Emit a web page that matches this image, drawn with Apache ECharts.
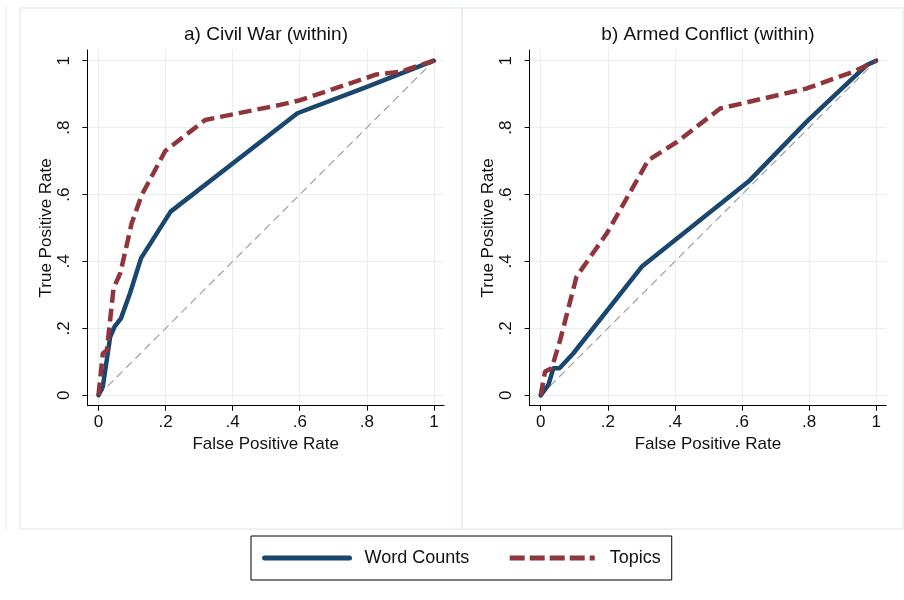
<!DOCTYPE html>
<html>
<head>
<meta charset="utf-8">
<script src="https://cdn.jsdelivr.net/npm/echarts@6/dist/echarts.min.js"></script>
<style>
html,body{margin:0;padding:0;background:#fff;}
#chart{width:904px;height:600px;}
</style>
</head>
<body>
<div id="chart"></div>
<script>
// ---- data ----
const panelTitles = ['a) Civil War (within)', 'b) Armed Conflict (within)'];
const seriesNames = ['Word Counts', 'Topics'];
const tickValues = [0, 0.2, 0.4, 0.6, 0.8, 1];
const tickLabels = ['0', '.2', '.4', '.6', '.8', '1'];
const xAxisTitle = 'False Positive Rate';
const yAxisTitle = 'True Positive Rate';

// a) Civil War — Word Counts
const cwWcFpr = [0, 0.013, 0.035, 0.048, 0.067, 0.094, 0.127, 0.215, 0.593, 0.80, 1];
const cwWcTpr = [0, 0.026, 0.175, 0.205, 0.23, 0.305, 0.41, 0.549, 0.843, 0.922, 1];
// a) Civil War — Topics
const cwTpFpr = [0, 0.013, 0.025, 0.045, 0.065, 0.099, 0.129, 0.199, 0.318, 0.541, 0.601, 0.829, 0.899, 1];
const cwTpTpr = [0, 0.125, 0.135, 0.32, 0.365, 0.514, 0.599, 0.73, 0.823, 0.868, 0.882, 0.959, 0.967, 1];
// b) Armed Conflict — Word Counts
const acWcFpr = [0, 0.023, 0.038, 0.056, 0.097, 0.301, 0.624, 0.793, 0.972, 1];
const acWcTpr = [0, 0.031, 0.081, 0.081, 0.125, 0.384, 0.643, 0.818, 0.987, 1];
// b) Armed Conflict — Topics
const acTpFpr = [0, 0.013, 0.033, 0.058, 0.107, 0.197, 0.321, 0.406, 0.535, 0.793, 0.932, 1];
const acTpTpr = [0, 0.071, 0.081, 0.165, 0.355, 0.484, 0.703, 0.757, 0.857, 0.917, 0.967, 1];
// reference diagonal
const diagX = [0, 1];
const diagY = [0, 1];

// ---- build ----
const FONT = '"Liberation Sans", Arial, Helvetica, sans-serif';
const BLUE = '#1a476f';
const RED = '#90353b';
const GRIDC = '#e8eff1';

function zip(a, b) { return a.map((v, i) => [v, b[i]]); }
function fmt(v) {
  const i = tickValues.findIndex(t => Math.abs(t - v) < 1e-9);
  return i >= 0 ? tickLabels[i] : '';
}

const grids = [
  { left: 87.4, top: 50, width: 356.6, height: 355.7 },
  { left: 529.6, top: 50, width: 356.6, height: 355.7 }
];

function xAx(gi) {
  return {
    type: 'value', gridIndex: gi, min: -0.033, max: 1.03,
    name: xAxisTitle, nameLocation: 'middle', nameGap: 27,
    nameTextStyle: { fontFamily: FONT, fontSize: 17, color: '#111' },
    axisLine: { show: true, onZero: false, lineStyle: { color: '#000', width: 1 } },
    axisTick: { show: true, length: 5, customValues: tickValues, lineStyle: { color: '#000' } },
    axisLabel: { customValues: tickValues, formatter: fmt, margin: 8, fontFamily: FONT, fontSize: 17, color: '#111' },
    splitLine: { show: true, lineStyle: { color: GRIDC, width: 1 } }
  };
}
function yAx(gi) {
  return {
    type: 'value', gridIndex: gi, min: -0.031, max: 1.032,
    name: yAxisTitle, nameLocation: 'middle', nameGap: 33,
    nameTextStyle: { fontFamily: FONT, fontSize: 17, color: '#111' },
    axisLine: { show: true, onZero: false, lineStyle: { color: '#000', width: 1 } },
    axisTick: { show: true, length: 5, customValues: tickValues, lineStyle: { color: '#000' } },
    axisLabel: { customValues: tickValues, formatter: fmt, rotate: 90, margin: 15, fontFamily: FONT, fontSize: 17, color: '#111' },
    splitLine: { show: true, lineStyle: { color: GRIDC, width: 1 } }
  };
}

const panels = [
  { wc: zip(cwWcFpr, cwWcTpr), tp: zip(cwTpFpr, cwTpTpr) },
  { wc: zip(acWcFpr, acWcTpr), tp: zip(acTpFpr, acTpTpr) }
];

const series = [];
panels.forEach((p, gi) => {
  series.push({
    name: 'diag', type: 'line', xAxisIndex: gi, yAxisIndex: gi,
    data: zip(diagX, diagY), symbol: 'none', silent: true, z: 1,
    lineStyle: { color: '#a0a0a0', width: 1.2, type: [8, 5] }
  });
  series.push({
    name: seriesNames[0], type: 'line', xAxisIndex: gi, yAxisIndex: gi,
    data: p.wc, symbol: 'none', z: 3,
    lineStyle: { color: BLUE, width: 4.5, cap: 'round', join: 'round' },
    itemStyle: { color: BLUE }
  });
  series.push({
    name: seriesNames[1], type: 'line', xAxisIndex: gi, yAxisIndex: gi,
    data: p.tp, symbol: 'none', z: 4,
    lineStyle: { color: RED, width: 4.5, type: [13, 6] },
    itemStyle: { color: RED }
  });
});

const option = {
  backgroundColor: '#fff',
  animation: false,
  grid: grids,
  xAxis: [xAx(0), xAx(1)],
  yAxis: [yAx(0), yAx(1)],
  legend: {
    data: [
      { name: seriesNames[0], itemStyle: { opacity: 0 }, lineStyle: { width: 5, color: BLUE } },
      { name: seriesNames[1], itemStyle: { opacity: 0 }, lineStyle: { width: 5, color: RED, type: [15, 5] } }
    ],
    left: 251, top: 536,
    padding: [13, 11, 13, 11],
    itemGap: 38, itemWidth: 85, itemHeight: 14,
    borderColor: '#000', borderWidth: 1,
    textStyle: { fontFamily: FONT, fontSize: 18, color: '#111', padding: [0, 0, 0, 10] }
  },
  graphic: [
    { type: 'rect', shape: { x: 20, y: 8, width: 442, height: 521 }, style: { fill: null, stroke: GRIDC, lineWidth: 1.5 }, silent: true, z: -1 },
    { type: 'rect', shape: { x: 462, y: 8, width: 441, height: 521 }, style: { fill: null, stroke: GRIDC, lineWidth: 1.5 }, silent: true, z: -1 },
    { type: 'line', shape: { x1: 6, y1: 7, x2: 6, y2: 529 }, style: { stroke: GRIDC, lineWidth: 1.5 }, silent: true, z: -1 },
    { type: 'text', x: 266, y: 35, style: { text: panelTitles[0], fontFamily: FONT, fontSize: 19, fill: '#111', textAlign: 'center', textVerticalAlign: 'middle' } },
    { type: 'text', x: 708, y: 35, style: { text: panelTitles[1], fontFamily: FONT, fontSize: 19, fill: '#111', textAlign: 'center', textVerticalAlign: 'middle' } }
  ],
  series: series
};

const chart = echarts.init(document.getElementById('chart'), null, { renderer: 'canvas' });
chart.setOption(option);
</script>
</body>
</html>
